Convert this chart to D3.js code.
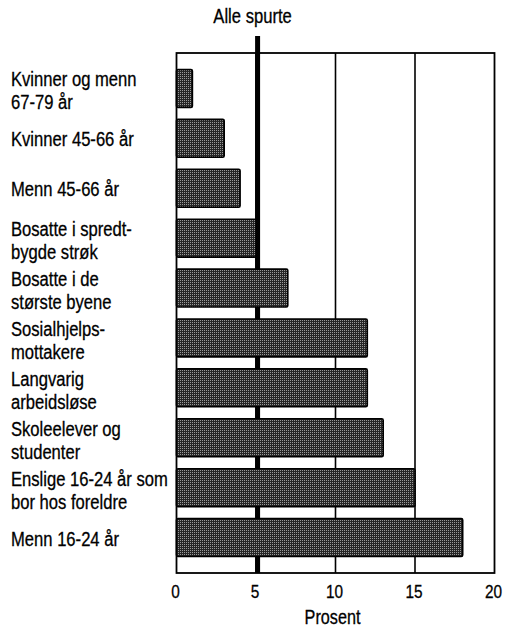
<!DOCTYPE html>
<html>
<head>
<meta charset="utf-8">
<script src="https://cdn.jsdelivr.net/npm/d3@7"></script>
<style>
    html, body { margin: 0; padding: 0; background: #fff; }
    svg { display: block; font-family: "Liberation Sans", Arial, Helvetica, sans-serif; }
    svg text { stroke: #000; stroke-width: 0.3px; }
</style>
</head>
<body>
<div id="chart"></div>
<script>
'use strict';

// ------------ DATA ---------------- //

const categories = [
    'Kvinner og menn|67-79 år',
    'Kvinner 45-66 år',
    'Menn 45-66 år',
    'Bosatte i spredt-|bygde strøk',
    'Bosatte i de|største byene',
    'Sosialhjelps-|mottakere',
    'Langvarig|arbeidsløse',
    'Skoleelever og|studenter',
    'Enslige 16-24 år som|bor hos foreldre',
    'Menn 16-24 år'
];
const values         = [1, 3, 4, 5, 7, 12, 12, 13, 15, 18];
const allRespondents = 5.1;
const refLabel       = 'Alle spurte';
const xTicks         = [0, 5, 10, 15, 20];
const xTitle         = 'Prosent';

// ------------ DRAWING ---------------- //

const width   = 507;
const height  = 628;
const plot    = {left: 176.5, right: 494.5, top: 53, bottom: 573};
const NARROW  = 0.83;   // no narrow font installed, squeeze the regular one

const data = categories.map((c, i) => ({label: c.split('|'), value: values[i]}));

// squeeze text horizontally to mimic a condensed typeface
const condense = sel => sel.each(function() {
    const len = this.getComputedTextLength();
    d3.select(this)
        .attr('textLength', len * NARROW)
        .attr('lengthAdjust', 'spacingAndGlyphs');
});

const svg = d3.select('#chart')
    .append('svg')
    .attr('width', width)
    .attr('height', height);

// stipple fill for the bars
const pattern = svg.append('defs').append('pattern')
    .attr('id', 'stipple')
    .attr('patternUnits', 'userSpaceOnUse')
    .attr('width', 2)
    .attr('height', 2);
pattern.append('rect').attr('width', 2).attr('height', 2).attr('fill', '#262626');
pattern.append('rect').attr('width', 1).attr('height', 1).attr('fill', '#9a9a9a');

const x = d3.scaleLinear()
    .domain([0, 20])
    .range([plot.left, plot.right]);

const y = d3.scaleBand()
    .domain(d3.range(data.length))
    .range([plot.top, plot.bottom])
    .paddingInner(0.24)
    .paddingOuter(0.33);

// gridlines
svg.append('g')
    .selectAll('line')
    .data(xTicks.slice(1, -1))
    .join('line')
    .attr('x1', d => x(d))
    .attr('x2', d => x(d))
    .attr('y1', plot.top)
    .attr('y2', plot.bottom)
    .attr('stroke', '#000')
    .attr('stroke-width', 1.6);

// frame
svg.append('rect')
    .attr('x', plot.left)
    .attr('y', plot.top)
    .attr('width', plot.right - plot.left)
    .attr('height', plot.bottom - plot.top)
    .attr('fill', 'none')
    .attr('stroke', '#000')
    .attr('stroke-width', 1.8);

// reference line "Alle spurte"
svg.append('line')
    .attr('x1', x(allRespondents))
    .attr('x2', x(allRespondents))
    .attr('y1', 36)
    .attr('y2', plot.bottom)
    .attr('stroke', '#000')
    .attr('stroke-width', 5);

svg.append('text')
    .attr('x', x(allRespondents) - 5)
    .attr('y', 23)
    .attr('text-anchor', 'middle')
    .attr('font-size', 20)
    .text(refLabel)
    .call(condense);

// bars
svg.append('g')
    .selectAll('rect')
    .data(data)
    .join('rect')
    .attr('x', x(0))
    .attr('y', (d, i) => y(i))
    .attr('width', d => x(d.value) - x(0))
    .attr('height', y.bandwidth())
    .attr('rx', 1.5)
    .attr('fill', 'url(#stipple)')
    .attr('stroke', '#000')
    .attr('stroke-width', 1.6);

// category labels, one text per line
const lines = data.flatMap((d, i) => d.label.map((line, j) => ({
    line,
    y: y(i) + y.bandwidth() / 2 + 8 - (d.label.length - 1) * 10 + j * 23
})));

svg.append('g')
    .selectAll('text')
    .data(lines)
    .join('text')
    .attr('x', 11)
    .attr('y', d => d.y)
    .attr('font-size', 20)
    .text(d => d.line)
    .call(condense);

// x axis
const xAxis = svg.append('g')
    .attr('transform', `translate(0,${plot.bottom})`)
    .call(d3.axisBottom(x).tickValues(xTicks).tickSize(0).tickPadding(12))
    .attr('font-family', null)
    .attr('font-size', null);

xAxis.select('.domain').remove();
xAxis.selectAll('text')
    .attr('font-size', 18.5)
    .attr('fill', '#000')
    .attr('dx', -1.5)
    .call(condense);

svg.append('text')
    .attr('x', (plot.left + plot.right) / 2 - 3)
    .attr('y', 624)
    .attr('text-anchor', 'middle')
    .attr('font-size', 19.5)
    .text(xTitle)
    .call(condense);
</script>
</body>
</html>
